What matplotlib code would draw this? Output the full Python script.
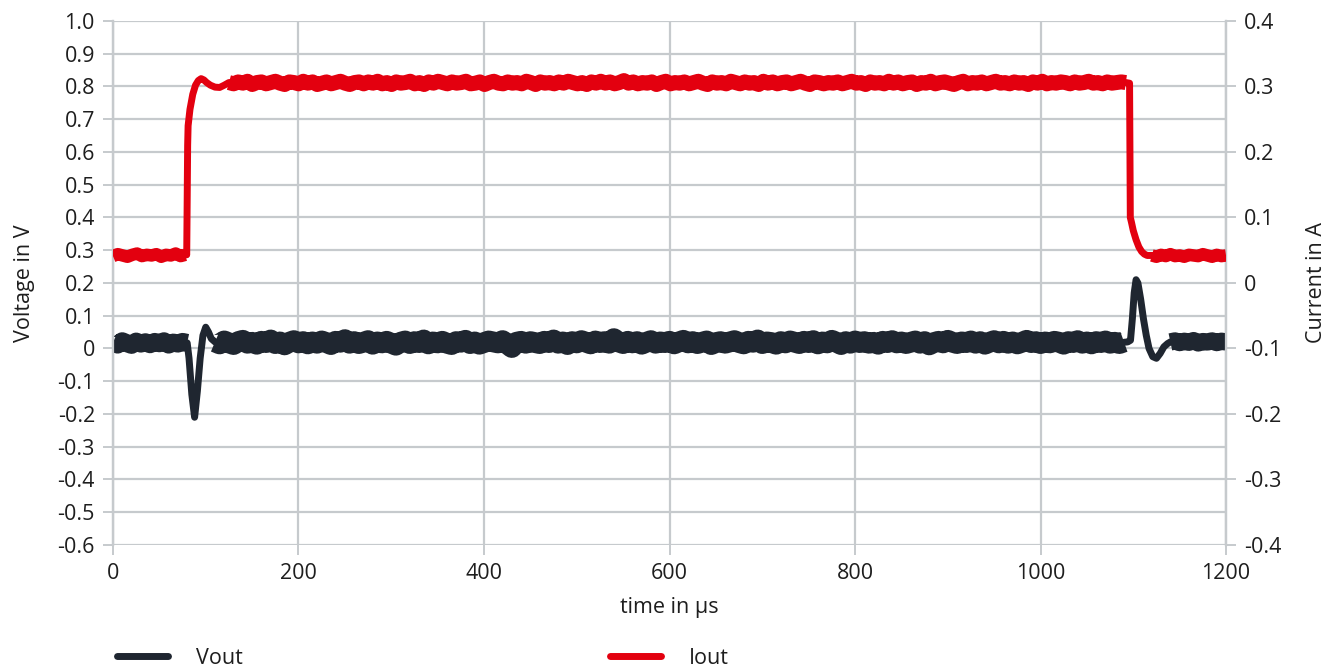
import numpy as np
import matplotlib
matplotlib.use("Agg")
import matplotlib.pyplot as plt

plt.rcParams['font.family'] = ['Open Sans', 'DejaVu Sans']

# ---- Vout (left axis, V) ----
vout_start = [0.018, 0.012, 0.022, 0.016, 0.011, 0.021, 0.015, 0.019, 0.013,
              0.020, 0.016, 0.022, 0.012, 0.018, 0.015, 0.020, 0.017]   # 0..80 us
vout_dip_t = [80, 82, 85, 88, 91, 94, 97, 100, 103, 106, 110, 114]
vout_dip = [0.017, -0.03, -0.14, -0.21, -0.13, -0.03, 0.04, 0.065, 0.05, 0.03, 0.02, 0.018]
vout_mid = [
    0.020, 0.014, 0.023, 0.017, 0.012, 0.021, 0.025, 0.016, 0.019, 0.013,
    0.022, 0.018, 0.026, 0.015, 0.020, 0.011, 0.019, 0.024, 0.017, 0.021,
    0.014, 0.020, 0.016, 0.023, 0.018, 0.012, 0.022, 0.019, 0.027, 0.016,
    0.021, 0.015, 0.019, 0.024, 0.013, 0.020, 0.017, 0.022, 0.016, 0.010,
    0.019, 0.023, 0.015, 0.021, 0.018, 0.026, 0.014, 0.020, 0.017, 0.022,
    0.016, 0.012, 0.021, 0.019, 0.025, 0.015, 0.020, 0.013, 0.018, 0.023,
    0.020, 0.017, 0.024, 0.014, 0.003, 0.019, 0.022, 0.016, 0.021, 0.018,
    0.015, 0.022, 0.018, 0.026, 0.016, 0.020, 0.012, 0.021, 0.017, 0.024,
    0.019, 0.014, 0.023, 0.018, 0.021, 0.016, 0.030, 0.020, 0.015, 0.022,
    0.017, 0.021, 0.013, 0.019, 0.024, 0.016, 0.020, 0.018, 0.022, 0.014,
    0.020, 0.025, 0.017, 0.021, 0.015, 0.019, 0.023, 0.012, 0.018, 0.021,
    0.016, 0.020, 0.024, 0.018, 0.014, 0.022, 0.019, 0.026, 0.015, 0.020,
    0.018, 0.013, 0.021, 0.017, 0.023, 0.019, 0.015, 0.022, 0.018, 0.024,
    0.014, 0.020, 0.017, 0.025, 0.019, 0.012, 0.021, 0.016, 0.023, 0.018,
    0.021, 0.016, 0.019, 0.013, 0.022, 0.018, 0.024, 0.017, 0.020, 0.015,
    0.019, 0.023, 0.016, 0.021, 0.011, 0.018, 0.022, 0.017, 0.025, 0.019,
    0.015, 0.020, 0.018, 0.023, 0.016, 0.021, 0.013, 0.019, 0.024, 0.017,
    0.022, 0.016, 0.020, 0.014, 0.019, 0.025, 0.018, 0.021, 0.015, 0.020,
    0.017, 0.022, 0.019, 0.013, 0.021, 0.018, 0.024, 0.016, 0.020, 0.014,
    0.021, 0.018, 0.023, 0.016, 0.019, 0.015, 0.020,
]                                                                # 110..1090 us
vout_peak_t = [1090, 1094, 1097, 1099, 1101, 1103, 1105, 1108, 1111, 1114,
               1117, 1121, 1125, 1129, 1133, 1137, 1140, 1143]
vout_peak = [0.019, 0.02, 0.025, 0.09, 0.17, 0.21, 0.20, 0.15, 0.09, 0.04,
             0.0, -0.025, -0.03, -0.015, 0.005, 0.015, 0.02, 0.021]
vout_end = [0.020, 0.023, 0.018, 0.022, 0.019, 0.024, 0.017, 0.021, 0.020,
            0.023, 0.018, 0.022, 0.020]                          # 1140..1200 us

# ---- Iout (right axis, A) ----
iout_start = [0.041, 0.044, 0.042, 0.040, 0.043, 0.045, 0.041, 0.043, 0.042,
              0.044, 0.040, 0.043, 0.042, 0.045, 0.041, 0.043]   # 0..78 us
iout_rise_t = [78, 79.5, 80.5, 81, 83, 86, 89, 92, 95, 98, 101, 105, 110, 115, 120, 125, 129]
iout_rise = [0.043, 0.043, 0.21, 0.24, 0.265, 0.288, 0.302, 0.309, 0.312, 0.310,
             0.306, 0.302, 0.299, 0.2985, 0.302, 0.306, 0.306]
iout_mid = [
    0.306, 0.304, 0.307, 0.305, 0.308, 0.303, 0.306, 0.307, 0.304, 0.306,
    0.308, 0.305, 0.303, 0.307, 0.306, 0.304, 0.308, 0.305, 0.307, 0.303,
    0.305, 0.307, 0.304, 0.306, 0.308, 0.305, 0.303, 0.306, 0.307, 0.304,
    0.307, 0.305, 0.308, 0.304, 0.306, 0.303, 0.307, 0.305, 0.306, 0.308,
    0.304, 0.306, 0.303, 0.307, 0.305, 0.308, 0.306, 0.304, 0.307, 0.305,
    0.306, 0.308, 0.304, 0.305, 0.307, 0.303, 0.306, 0.308, 0.305, 0.304,
    0.307, 0.305, 0.306, 0.304, 0.308, 0.306, 0.303, 0.307, 0.305, 0.306,
    0.304, 0.307, 0.305, 0.308, 0.306, 0.304, 0.306, 0.303, 0.307, 0.305,
    0.308, 0.305, 0.307, 0.304, 0.306, 0.309, 0.305, 0.307, 0.304, 0.306,
    0.305, 0.307, 0.303, 0.306, 0.308, 0.304, 0.306, 0.305, 0.307, 0.304,
    0.306, 0.308, 0.305, 0.303, 0.307, 0.305, 0.306, 0.304, 0.308, 0.306,
    0.304, 0.307, 0.305, 0.306, 0.303, 0.308, 0.305, 0.307, 0.304, 0.306,
    0.307, 0.304, 0.306, 0.308, 0.305, 0.303, 0.307, 0.306, 0.304, 0.306,
    0.305, 0.307, 0.304, 0.306, 0.308, 0.305, 0.306, 0.303, 0.307, 0.305,
    0.306, 0.304, 0.308, 0.305, 0.307, 0.304, 0.306, 0.307, 0.303, 0.306,
    0.305, 0.308, 0.304, 0.306, 0.307, 0.305, 0.303, 0.306, 0.308, 0.304,
    0.306, 0.305, 0.307, 0.304, 0.306, 0.308, 0.305, 0.306, 0.304, 0.307,
    0.305, 0.306, 0.303, 0.307, 0.305, 0.308, 0.304, 0.306, 0.305, 0.307,
    0.306, 0.304, 0.307, 0.305, 0.306, 0.308, 0.305, 0.306, 0.304, 0.307,
    0.305, 0.306, 0.307, 0.306,
]                                                                # 125..1092 us
iout_fall_t = [1092, 1096, 1096.8, 1098, 1100, 1103, 1106, 1109, 1112, 1115, 1120, 1124]
iout_fall = [0.306, 0.305, 0.10, 0.093, 0.08, 0.066, 0.055, 0.048, 0.044, 0.042, 0.042, 0.042]
iout_end = [0.042, 0.040, 0.043, 0.041, 0.044, 0.041, 0.042, 0.040, 0.043,
            0.042, 0.041, 0.044, 0.042, 0.040, 0.043, 0.041, 0.042]  # 1120..1200 us

dark = '#1f2630'
red = '#e3000f'
grid_c = '#c6cacd'
txt = '#1e1e1e'

fig = plt.figure(figsize=(13.37, 6.66), dpi=100)
ax = fig.add_axes([0.0845, 0.1817, 0.8325, 0.7868])
ax2 = ax.twinx()

# noisy flat stretches drawn as a wide band, transitions as a normal trace
band = dict(solid_capstyle='butt', solid_joinstyle='round', zorder=3)
trace = dict(solid_capstyle='round', solid_joinstyle='round', zorder=4)

ax.plot(np.linspace(0, 80, len(vout_start)), vout_start, color=dark, lw=13, **band)
lv, = ax.plot(vout_dip_t, vout_dip, color=dark, lw=5, **trace)
ax.plot(np.linspace(110, 1090, len(vout_mid)), vout_mid, color=dark, lw=15, **band)
ax.plot(vout_peak_t, vout_peak, color=dark, lw=5, **trace)
ax.plot(np.linspace(1140, 1200, len(vout_end)), vout_end, color=dark, lw=12.5, **band)

ax2.plot(np.linspace(0, 78, len(iout_start)), iout_start, color=red, lw=9, **band)
li, = ax2.plot(iout_rise_t, iout_rise, color=red, lw=5, **trace)
ax2.plot(np.linspace(125, 1092, len(iout_mid)), iout_mid, color=red, lw=10.8, **band)
ax2.plot(iout_fall_t, iout_fall, color=red, lw=5, **trace)
ax2.plot(np.linspace(1120, 1200, len(iout_end)), iout_end, color=red, lw=9, **band)

ax.set_xlim(0, 1200)
ax.set_ylim(-0.6, 1.0)
ax2.set_ylim(-0.4, 0.4)
ax.set_xticks(np.arange(0, 1201, 200))
ax.set_yticks(np.arange(-0.6, 1.01, 0.1))
ax.set_yticklabels(['-0.6', '-0.5', '-0.4', '-0.3', '-0.2', '-0.1', '0', '0.1', '0.2',
                    '0.3', '0.4', '0.5', '0.6', '0.7', '0.8', '0.9', '1.0'])
ax2.set_yticks(np.arange(-0.4, 0.41, 0.1))
ax2.set_yticklabels(['-0.4', '-0.3', '-0.2', '-0.1', '0', '0.1', '0.2', '0.3', '0.4'])

ax.grid(True, color=grid_c, lw=1.6)
ax.set_axisbelow(True)
for a in (ax, ax2):
    for s in ('top', 'bottom'):
        a.spines[s].set_visible(False)
    for s in ('left', 'right'):
        a.spines[s].set_color(grid_c)
        a.spines[s].set_linewidth(1.6)
    a.tick_params(colors=grid_c, labelcolor=txt, labelsize=15.5, length=7, width=1.4, pad=6)

ax.set_xlabel('time in µs', fontsize=15.5, color=txt, labelpad=9)
ax.set_ylabel('Voltage in V', fontsize=15.5, color=txt, labelpad=16)
ax2.set_ylabel('Current in A', fontsize=15.5, color=txt, labelpad=18)

fig.legend([lv, li], ['Vout', 'Iout'], loc='center left',
           bbox_to_anchor=(0.073, 1 - 658 / 666), ncol=2, frameon=False,
           fontsize=15.5, handlelength=2.35, handletextpad=1.3, columnspacing=17.1,
           labelcolor=txt)

fig.savefig('out.png', dpi=100)
